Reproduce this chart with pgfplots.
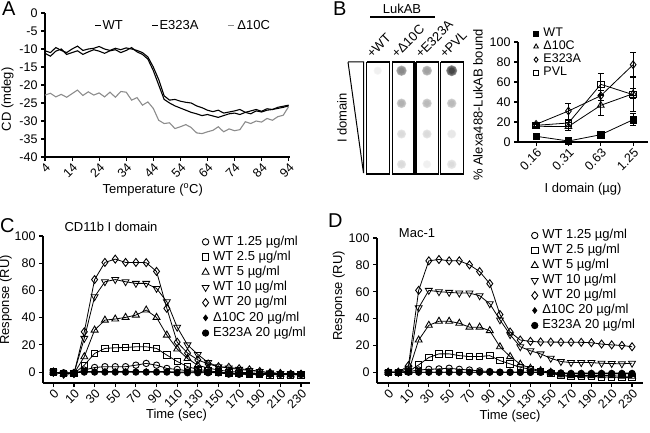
\documentclass[border=0pt]{standalone}
\usepackage{fontspec}
\setmainfont{Liberation Sans}
\usepackage{pgfplots}
\pgfplotsset{compat=1.18}

\pgfplotstableread{
T WT E323A D10C
4 -10.5 -11.2 -22.8
6 -11.0 -12.0 -22.3
8 -9.6 -10.6 -23.3
10 -10.4 -10.0 -22.6
12 -11.0 -11.5 -23.4
14 -10.0 -11.0 -22.4
16 -9.2 -10.5 -21.4
18 -10.4 -11.5 -22.9
20 -10.0 -10.8 -21.9
22 -9.8 -10.2 -22.8
24 -9.3 -10.6 -22.2
26 -10.0 -11.2 -23.3
28 -10.4 -10.5 -22.0
30 -9.8 -10.2 -23.4
32 -10.2 -11.0 -21.8
34 -9.7 -10.4 -22.0
36 -10.0 -9.6 -24.2
38 -10.4 -10.8 -23.5
40 -11.0 -11.5 -25.6
42 -12.2 -12.8 -24.7
44 -15.0 -16.0 -26.5
46 -18.5 -20.0 -29.8
48 -23.0 -24.0 -30.7
50 -24.2 -25.0 -30.5
52 -24.0 -25.8 -32.1
54 -24.5 -26.4 -31.6
56 -24.8 -27.0 -31.0
58 -25.0 -27.6 -31.8
60 -25.8 -28.0 -33.3
62 -26.3 -28.5 -33.5
64 -27.0 -28.2 -33.0
66 -27.4 -28.6 -32.6
68 -27.0 -29.0 -31.6
70 -27.8 -28.5 -33.0
72 -27.5 -28.0 -32.2
74 -27.2 -27.8 -32.7
76 -26.8 -28.2 -32.4
78 -27.6 -27.6 -30.2
80 -27.2 -28.0 -30.7
82 -26.8 -27.2 -30.0
84 -27.3 -27.5 -30.3
86 -26.6 -27.0 -29.3
88 -26.8 -26.8 -29.8
90 -26.2 -26.5 -28.8
92 -25.9 -26.2 -28.4
94 -25.6 -25.8 -26.0
}\tabA

\pgfplotstableread{
t W125 W25 W5 W10 W20 D10C E323A
-10 0.0 0.2 0.0 0.0 0.0 -0.5 -0.3
0 -1.0 -1.2 -1.2 -1.2 -1.5 -0.5 -0.5
10 -1.0 -1.0 -1.0 -1.0 -1.0 -0.5 -0.5
20 1.5 5.1 11.3 24.8 29.6 0.5 0.0
30 3.4 13.7 30.9 55.4 68.0 0.5 0.0
40 4.0 17.4 38.2 66.4 80.6 0.5 0.0
50 4.0 17.9 39.0 68.0 83.0 0.5 0.0
60 4.0 18.1 40.2 66.4 80.6 0.5 0.0
70 5.1 18.6 41.9 65.2 80.6 0.5 0.0
80 6.4 18.6 45.6 65.2 80.4 0.5 0.0
90 5.1 17.4 40.2 61.5 74.0 0.5 0.0
100 2.7 12.5 27.2 51.7 46.8 0.5 0.0
110 2.0 7.8 17.0 33.0 22.0 0.0 -0.5
120 1.0 4.0 10.0 20.0 14.0 0.0 -0.5
130 0.5 2.0 5.0 13.0 9.0 0.0 -0.5
140 0.0 1.0 3.0 7.0 6.0 0.0 -0.5
150 -0.5 0.0 1.5 4.0 4.0 0.0 -0.5
160 -1.0 -0.5 0.5 3.0 3.5 -1.0 -1.5
170 -1.5 -1.0 0.0 2.0 2.5 -1.0 -1.5
180 -1.5 -1.5 -0.5 1.2 1.7 -1.0 -1.5
190 -1.5 -1.5 -1.0 0.5 0.5 -1.0 -1.5
200 -1.5 -2.0 -1.5 -0.5 -0.5 -1.0 -1.5
210 -1.5 -2.0 -1.5 -1.0 -1.0 -1.0 -1.5
220 -1.5 -2.0 -2.0 -1.5 -1.5 -1.0 -1.5
230 -1.5 -2.0 -2.0 -1.5 -1.5 -1.0 -1.5
}\tabC

\pgfplotstableread{
t W125 W25 W5 W10 W20 D10C E323A
-10 0.0 0.0 0.0 0.0 0.0 0.0 0.0
0 0.0 0.0 0.0 0.0 0.0 0.0 0.0
10 0.5 0.5 0.5 3.0 5.0 0.0 0.0
20 1.7 5.5 24.0 48.0 61.0 0.0 0.0
30 2.2 11.0 35.0 61.0 83.0 0.0 0.0
40 2.5 13.7 38.0 60.0 84.0 0.0 0.0
50 3.0 13.7 38.0 59.5 83.0 0.0 0.0
60 2.2 12.4 36.5 59.0 83.0 0.0 0.0
70 1.7 11.7 33.6 59.0 80.0 0.0 0.0
80 1.0 11.7 33.6 57.0 75.0 0.0 0.0
90 0.5 12.4 31.0 51.0 66.0 0.0 0.0
100 0.0 8.7 19.0 39.0 43.0 0.0 0.0
110 0.0 6.2 11.7 28.0 30.0 0.0 0.0
120 0.0 3.7 6.0 19.0 24.0 0.0 0.0
130 0.0 2.2 3.0 16.0 23.0 0.0 0.0
140 0.0 0.5 1.2 13.7 22.6 0.0 0.0
150 0.0 -0.7 0.0 10.4 22.5 -0.5 -0.5
160 -1.0 -2.5 -2.0 8.0 22.4 -0.5 -0.5
170 -1.0 -3.2 -2.5 7.2 22.4 -0.5 -1.0
180 -1.0 -3.0 -2.5 7.2 22.3 -0.5 -1.0
190 -1.0 -3.0 -2.5 7.2 22.0 -0.5 -1.0
200 -1.0 -3.5 -2.5 6.7 21.0 -0.5 -1.0
210 -1.0 -3.5 -2.5 6.5 20.4 -0.5 -1.0
220 -1.0 -4.0 -3.0 6.3 20.0 -0.5 -1.0
230 -1.0 -4.0 -3.0 6.7 19.0 -0.5 -1.0
}\tabD

\pgfplotsset{
  gp/.style={
    scale only axis, anchor=south west,
    axis x line=bottom, axis y line=left,
    axis line style={-, line width=1.3pt},
    tick style={line width=1.1pt, black},
    tick align=outside, major tick length=4pt,
    /pgf/number format/assume math mode=true,
    tick label style={font=\fontsize{12.5}{14}\selectfont},
    label style={font=\fontsize{13}{15}\selectfont},
    xticklabel style={rotate=45, anchor=north east, inner sep=1pt},
    clip=false,
  },
  mk/.style={legend image code/.code={\draw[mark repeat=2,mark phase=2,##1,only marks] plot coordinates {(0pt,0pt) (3.5pt,0pt) (7pt,0pt)}; \path (10pt,0pt);}},
  ser/.style={black, line width=0.8pt, mark options={solid, fill=white, line width=0.9pt}},
  sp/.style={only marks, mark=*, mark options={draw opacity=0, fill=black!#1}},
}

\begin{document}
\begin{tikzpicture}
\useasboundingbox (0pt,0pt) rectangle (650pt,432pt);

% ---------------- Panel A
\begin{axis}[gp, at={(45pt,275pt)}, width=245pt, height=144pt,
  xmin=4, xmax=94.5, ymin=-40, ymax=0,
  xtick={4,14,...,94}, ytick={-40,-35,...,0},
  xlabel={Temperature (\textsuperscript{o}C)}, ylabel={CD (mdeg)},
  xlabel style={at={(ticklabel cs:0.44)}},
  ylabel style={at={(ticklabel cs:0.4)}}, ylabel shift=-1pt,
  legend columns=3,
  legend image code/.code={\draw[#1] (0pt,0pt) -- (6pt,0pt);},
  legend style={draw=none, fill=none, at={(0.19,0.97)}, anchor=north west,
    font=\fontsize{13}{15}\selectfont, nodes={inner sep=0.8pt},
    /tikz/every even column/.append style={column sep=28pt}},
]
\addplot[black, line width=1.1pt] table[x=T,y=WT] {\tabA};
\addlegendentry{WT}
\addplot[black, line width=1.1pt] table[x=T,y=E323A] {\tabA};
\addlegendentry{E323A}
\addplot[black!45, line width=1.1pt] table[x=T,y=D10C] {\tabA};
\addlegendentry{\,Δ10C}
\end{axis}

% ---------------- Panel B blot (pixel coordinates, y negated)
\begin{axis}[at={(340pt,252pt)}, anchor=south west, scale only axis, width=130pt, height=120pt,
  xmin=340, xmax=470, ymin=-180, ymax=-60, hide axis, clip=false]
\addplot[black, line width=1pt, fill=white] coordinates {(348,-62) (363.5,-62) (363.5,-173) (348,-62)};
\addplot[black, line width=1.3pt] coordinates {(366.7,-62) (389.3,-62) (389.3,-174) (366.7,-174) (366.7,-62)};
\addplot[black, line width=1.3pt] coordinates {(392.3,-62) (414,-62) (414,-174) (392.3,-174) (392.3,-62)};
\addplot[black, line width=1.3pt] coordinates {(416,-62) (438.3,-62) (438.3,-174) (416,-174) (416,-62)};
\addplot[black, line width=1.3pt] coordinates {(440.7,-62) (463.3,-62) (463.3,-174) (440.7,-174) (440.7,-62)};
% spots: soft edge + body + core
\addplot[sp=4, mark size=4.2pt] coordinates {(377.7,-70.7) (427,-164.3)};
\addplot[sp=6, mark size=3.3pt] coordinates {(377.7,-70.7) (427,-164.3)};
\addplot[sp=30, mark size=5.2pt] coordinates {(401.5,-70.7)};
\addplot[sp=40, mark size=4.4pt] coordinates {(401.5,-70.7)};
\addplot[sp=46, mark size=3.0pt] coordinates {(401.5,-70.7)};
\addplot[sp=24, mark size=5pt] coordinates {(427,-70.7)};
\addplot[sp=32, mark size=4.2pt] coordinates {(427,-70.7)};
\addplot[sp=37, mark size=2.9pt] coordinates {(427,-70.7)};
\addplot[sp=45, mark size=5.5pt] coordinates {(451.7,-70.7)};
\addplot[sp=60, mark size=4.6pt] coordinates {(451.7,-70.7)};
\addplot[sp=72, mark size=3.2pt] coordinates {(451.7,-70.7)};
\addplot[sp=19, mark size=4.8pt] coordinates {(401.5,-103.3)};
\addplot[sp=26, mark size=4pt] coordinates {(401.5,-103.3)};
\addplot[sp=30, mark size=2.8pt] coordinates {(401.5,-103.3)};
\addplot[sp=17, mark size=4.8pt] coordinates {(427,-103.3) (451.7,-103.3)};
\addplot[sp=23, mark size=4pt] coordinates {(427,-103.3) (451.7,-103.3)};
\addplot[sp=27, mark size=2.8pt] coordinates {(427,-103.3) (451.7,-103.3)};
\addplot[sp=9, mark size=4.6pt] coordinates {(401.5,-134) (427,-134) (401.5,-164.3)};
\addplot[sp=12, mark size=3.8pt] coordinates {(401.5,-134) (427,-134) (401.5,-164.3)};
\addplot[sp=14, mark size=2.6pt] coordinates {(401.5,-134) (427,-134) (401.5,-164.3)};
\addplot[sp=6, mark size=4.6pt] coordinates {(451.7,-134)};
\addplot[sp=9, mark size=3.8pt] coordinates {(451.7,-134)};
\addplot[sp=8, mark size=4.8pt] coordinates {(451.7,-164.3)};
\addplot[sp=11, mark size=4pt] coordinates {(451.7,-164.3)};
\addplot[sp=14, mark size=2.6pt] coordinates {(451.7,-164.3)};
\addplot[black, line width=1.2pt] coordinates {(370,-17) (435,-17)};
\node[font=\fontsize{13}{15}\selectfont] at (axis cs:402,-9) {LukAB};
\node[font=\fontsize{13}{15}\selectfont, rotate=45, anchor=south west, inner sep=0] at (axis cs:372,-59) {+WT};
\node[font=\fontsize{13}{15}\selectfont, rotate=45, anchor=south west, inner sep=0] at (axis cs:397,-59) {+Δ10C};
\node[font=\fontsize{13}{15}\selectfont, rotate=45, anchor=south west, inner sep=0] at (axis cs:421,-59) {+E323A};
\node[font=\fontsize{13}{15}\selectfont, rotate=45, anchor=south west, inner sep=0] at (axis cs:445,-59) {+PVL};
\node[font=\fontsize{13}{15}\selectfont, rotate=90] at (axis cs:342,-118) {I domain};
\end{axis}

% ---------------- Panel B plot
\begin{axis}[gp, at={(518pt,290pt)}, width=130pt, height=100pt,
  xmin=-0.56, xmax=3.46, ymin=0, ymax=100,
  xtick={0,1,2,3}, xticklabels={0.16,0.31,0.63,1.25},
  ytick={0,20,...,100},
  xlabel={I domain (µg)}, ylabel={\% Alexa488-LukAB bound},
  xlabel style={yshift=-7pt},
  ylabel style={at={(ticklabel cs:0.37)}},
  legend cell align=left,
  legend image post style={mark size=2.6pt},
  legend style={draw=none, fill=none, at={(axis cs:-0.18,116.8)}, anchor=north west,
    font=\fontsize{12.5}{15}\selectfont, nodes={inner sep=0.5pt, text height=9pt, text depth=2.5pt}, row sep=0.5pt},
  error bars/error bar style={line width=0.8pt, black},
  error bars/error mark options={rotate=90, mark size=3pt, line width=0.8pt, black},
]
\addplot[ser, mk, mark=square*, mark size=3.2pt, mark options={fill=black}, error bars/.cd, y dir=both, y explicit]
  coordinates {(0,5.7) +- (0,1.5) (1,1) +- (0,1) (2,7.3) +- (0,2.5) (3,22.3) +- (0,6)};
\addlegendentry{WT}
\addplot[ser, mk, mark=triangle, mark size=3.8pt, error bars/.cd, y dir=both, y explicit]
  coordinates {(0,15.7) +- (0,2) (1,15.5) +- (0,4) (2,36.7) +- (0,10) (3,48.3) +- (0,5)};
\addlegendentry{Δ10C}
\addplot[ser, mk, mark=diamond, mark size=3.8pt, error bars/.cd, y dir=both, y explicit]
  coordinates {(0,17.7) +- (0,2) (1,31) +- (0,8) (2,46.3) +- (0,5) (3,77.3) +- (0,12)};
\addlegendentry{E323A}
\addplot[ser, mk, mark=square, mark size=3.2pt, error bars/.cd, y dir=both, y explicit]
  coordinates {(0,16.7) +- (0,2) (1,19) +- (0,3) (2,57.7) +- (0,10.5) (3,47.3) +- (0,17)};
\addlegendentry{PVL}
\end{axis}

% ---------------- Panel C
\begin{axis}[gp, at={(43pt,49pt)}, width=267pt, height=147pt,
  xmin=-20, xmax=238.7, ymin=-8, ymax=100,
  xtick={-10,10,30,...,230}, xticklabels={0,10,30,50,70,90,110,130,150,170,190,210,230},
  ytick={0,20,...,100},
  xlabel={Time (sec)}, ylabel={Response (RU)},
  xlabel style={yshift=6pt},
  ylabel style={at={(ticklabel cs:0.565)}}, ylabel shift=-4pt,
  legend cell align=left,
  legend style={draw=none, fill=none, at={(0.584,1.02)}, anchor=north west,
    font=\fontsize{13}{15}\selectfont, nodes={inner sep=0.6pt, text height=9.2pt, text depth=2.8pt}, row sep=2pt},
]
\addplot[ser, mk, mark=o, mark size=3.2pt] table[x=t,y=W125] {\tabC};
\addlegendentry{WT 1.25 µg/ml}
\addplot[ser, mk, mark=square, mark size=3.2pt] table[x=t,y=W25] {\tabC};
\addlegendentry{WT 2.5 µg/ml}
\addplot[ser, mk, mark=triangle, mark size=4pt] table[x=t,y=W5] {\tabC};
\addlegendentry{WT 5 µg/ml}
\addplot[ser, mk, mark=triangle, mark size=4pt, mark options={rotate=180}] table[x=t,y=W10] {\tabC};
\addlegendentry{WT 10 µg/ml}
\addplot[ser, mk, mark=diamond, mark size=4pt] table[x=t,y=W20] {\tabC};
\addlegendentry{WT 20 µg/ml}
\addplot[ser, mk, mark=diamond*, mark size=2.8pt, mark options={fill=black}] table[x=t,y=D10C] {\tabC};
\addlegendentry{Δ10C 20 µg/ml}
\addplot[ser, mk, mark=*, mark size=3.2pt, mark options={fill=black}] table[x=t,y=E323A] {\tabC};
\addlegendentry{E323A 20 µg/ml}
\end{axis}

% ---------------- Panel D
\begin{axis}[gp, at={(377pt,49pt)}, width=266pt, height=145pt,
  xmin=-21, xmax=240.8, ymin=-8, ymax=100,
  xtick={-10,10,30,...,230}, xticklabels={0,10,30,50,70,90,110,130,150,170,190,210,230},
  ytick={0,20,...,100},
  xlabel={Time (sec)}, ylabel={Response (RU)},
  xlabel style={yshift=5pt},
  ylabel style={at={(ticklabel cs:0.6)}}, ylabel shift=-3pt,
  legend cell align=left,
  legend style={draw=none, fill=none, at={(0.568,1.078)}, anchor=north west,
    font=\fontsize{13}{15}\selectfont, nodes={inner sep=0.6pt, text height=9.2pt, text depth=2.8pt}, row sep=1.8pt},
]
\addplot[ser, mk, mark=o, mark size=3.2pt] table[x=t,y=W125] {\tabD};
\addlegendentry{WT 1.25 µg/ml}
\addplot[ser, mk, mark=square, mark size=3.2pt] table[x=t,y=W25] {\tabD};
\addlegendentry{WT 2.5 µg/ml}
\addplot[ser, mk, mark=triangle, mark size=4pt] table[x=t,y=W5] {\tabD};
\addlegendentry{WT 5 µg/ml}
\addplot[ser, mk, mark=triangle, mark size=4pt, mark options={rotate=180}] table[x=t,y=W10] {\tabD};
\addlegendentry{WT 10 µg/ml}
\addplot[ser, mk, mark=diamond, mark size=4pt] table[x=t,y=W20] {\tabD};
\addlegendentry{WT 20 µg/ml}
\addplot[ser, mk, mark=diamond*, mark size=2.8pt, mark options={fill=black}] table[x=t,y=D10C] {\tabD};
\addlegendentry{Δ10C 20 µg/ml}
\addplot[ser, mk, mark=*, mark size=3.2pt, mark options={fill=black}] table[x=t,y=E323A] {\tabD};
\addlegendentry{E323A 20 µg/ml}
\end{axis}

\node[font=\fontsize{13}{15}\selectfont] at (111pt,205pt) {CD11b I domain};
\node[font=\fontsize{13}{15}\selectfont] at (417pt,199pt) {Mac-1};
\node[font=\fontsize{20}{22}\selectfont, anchor=north west, inner sep=0] at (2pt,430pt) {A};
\node[font=\fontsize{20}{22}\selectfont, anchor=north west, inner sep=0] at (333pt,430pt) {B};
\node[font=\fontsize{20}{22}\selectfont, anchor=north west, inner sep=0] at (0pt,214pt) {C};
\node[font=\fontsize{20}{22}\selectfont, anchor=north west, inner sep=0] at (328pt,218pt) {D};
\end{tikzpicture}
\end{document}
